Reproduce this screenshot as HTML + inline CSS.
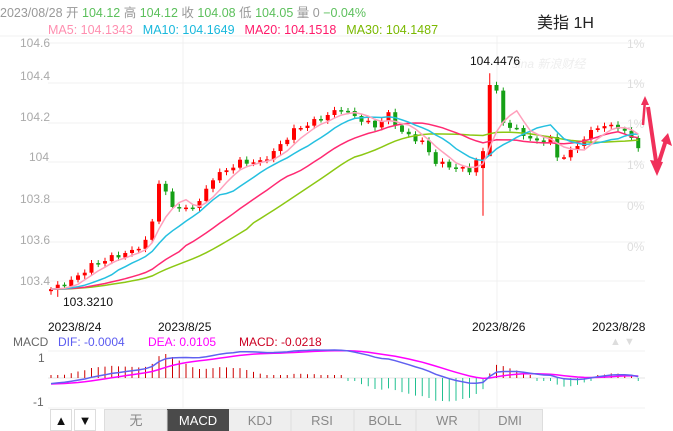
<!DOCTYPE html>
<html><head><meta charset="utf-8"><style>
body{margin:0;width:673px;height:431px;background:#fff;overflow:hidden;font-family:"Liberation Sans","Noto Sans CJK SC",sans-serif;}
svg{position:absolute;left:0;top:0}
</style></head><body>
<svg id="s" width="673" height="431" xmlns="http://www.w3.org/2000/svg" font-family="Liberation Sans, Noto Sans CJK SC, sans-serif">
<rect x="0" y="0" width="673" height="431" fill="#fff"/>
<g stroke="#f0f0f0" stroke-width="1">
<line x1="0" y1="36" x2="673" y2="36"/>
<line x1="48" y1="43" x2="645" y2="43"/><line x1="48" y1="83" x2="645" y2="83"/><line x1="48" y1="123" x2="645" y2="123"/><line x1="48" y1="162" x2="645" y2="162"/><line x1="48" y1="202" x2="645" y2="202"/><line x1="48" y1="242" x2="645" y2="242"/><line x1="48" y1="281" x2="645" y2="281"/>
<line x1="183" y1="36" x2="183" y2="320"/><line x1="497" y1="36" x2="497" y2="320"/>
<line x1="48" y1="351" x2="645" y2="351"/><line x1="48" y1="408" x2="645" y2="408"/>
<line x1="183" y1="351" x2="183" y2="408"/><line x1="497" y1="351" x2="497" y2="408"/>
</g>
<line x1="48" y1="378" x2="645" y2="378" stroke="#e4e4e4"/>
<text x="0" y="17" font-size="12.5" fill="#999">2023/08/28 开 <tspan fill="#5cc05c">104.12</tspan> 高 <tspan fill="#5cc05c">104.12</tspan> 收 <tspan fill="#5cc05c">104.08</tspan> 低 <tspan fill="#5cc05c">104.05</tspan> 量 0 <tspan fill="#5cc05c">−0.04%</tspan></text>
<text x="48" y="34" font-size="12.5"><tspan fill="#ff8fb0">MA5: 104.1343</tspan><tspan dx="10" fill="#19b8dc">MA10: 104.1649</tspan><tspan dx="10" fill="#ff1a6a">MA20: 104.1518</tspan><tspan dx="10" fill="#7ab800">MA30: 104.1487</tspan></text>
<text x="537" y="28" font-size="16" fill="#222">美指 1H</text>
<g font-size="12" fill="#aaa">
<text x="20" y="47">104.6</text><text x="20" y="80">104.4</text><text x="20" y="121">104.2</text><text x="29" y="161">104</text><text x="20" y="203">103.8</text><text x="20" y="244">103.6</text><text x="20" y="285">103.4</text>
</g>
<g font-size="12" fill="#ddd">
<text x="627" y="48">1%</text><text x="627" y="88">1%</text><text x="627" y="128">1%</text><text x="627" y="169">1%</text><text x="627" y="210">0%</text><text x="627" y="251">0%</text>
</g>
<text x="512" y="68" font-size="12" fill="#eee" font-style="italic">sina 新浪财经</text>
<g id="cand"></g><g id="ma"></g><g id="mac"></g>
<text x="470" y="65" font-size="12" fill="#111">104.4476</text>
<text x="63" y="306" font-size="12" fill="#111">103.3210</text>
<g font-size="12" fill="#111">
<text x="48" y="331">2023/8/24</text><text x="158" y="331">2023/8/25</text><text x="472" y="331">2023/8/26</text><text x="592" y="331">2023/8/28</text>
</g>
<text x="13" y="346" font-size="12" fill="#666">MACD</text>
<text x="58" y="346" font-size="12" fill="#5b5bf0">DIF: -0.0004</text>
<text x="148" y="346" font-size="12" fill="#ff00ff">DEA: 0.0105</text>
<text x="239" y="346" font-size="12" fill="#cc0022">MACD: -0.0218</text>
<text x="610" y="345" font-size="11" fill="#ddd">▲ ▼</text>
<text x="38" y="362" font-size="12" fill="#666">1</text>
<text x="33" y="406" font-size="12" fill="#666">-1</text>
<polyline points="643,125 645,100" stroke="#f0305a" stroke-width="2.5" fill="none"/>
<polygon points="641,105 645,96 649,105" fill="#f0305a"/>
<polyline points="648,107 657,168 666,140" stroke="#f0305a" stroke-width="4" fill="none" stroke-linejoin="miter"/>
<polygon points="650,160 657,176 663,162" fill="#f0305a"/>
<polygon points="661,141 668,133 672,146" fill="#f0305a"/>
<g stroke="#ddd" fill="#fff">
<rect x="50.5" y="409.5" width="21" height="21"/><rect x="74.5" y="409.5" width="21" height="21"/>
<rect x="104.5" y="409.5" width="438" height="22" fill="#eee"/>
</g>
<rect x="167" y="409" width="62" height="22" fill="#4a4a4a"/>
<g stroke="#ddd"><line x1="167" y1="410" x2="167" y2="431"/><line x1="291" y1="410" x2="291" y2="431"/><line x1="354" y1="410" x2="354" y2="431"/><line x1="416" y1="410" x2="416" y2="431"/><line x1="479" y1="410" x2="479" y2="431"/></g>
<g font-size="13" text-anchor="middle" fill="#888">
<text x="61" y="425" fill="#111">▲</text><text x="85" y="425" fill="#111">▼</text>
<text x="136" y="425">无</text><text x="198" y="425" fill="#fff">MACD</text><text x="260" y="425">KDJ</text><text x="322" y="425">RSI</text><text x="385" y="425">BOLL</text><text x="447" y="425">WR</text><text x="510" y="425">DMI</text>
</g>
</svg>
<script>
var kp=[[0,103.36],[3,103.40],[6,103.48],[9,103.52],[12,103.55],[14,103.60],[15,103.70],[16,103.90],[18,103.78],[20,103.76],[22,103.80],[24,103.92],[28,104.00],[31,104.00],[33,104.05],[36,104.16],[40,104.22],[43,104.27],[45,104.23],[48,104.18],[50,104.24],[52,104.15],[55,104.10],[57,104.00],[60,103.97],[62,103.96],[64,104.05],[65,104.40],[66,104.35],[67,104.20],[69,104.16],[72,104.10],[74,104.12],[75,104.02],[77,104.05],[79,104.12],[81,104.18],[84,104.18],[86,104.12],[87,104.08]];
var N=88,C=[];
for(var i=0;i<N;i++){for(var k=0;k<kp.length-1;k++){if(i>=kp[k][0]&&i<=kp[k+1][0]){var t=(i-kp[k][0])/(kp[k+1][0]-kp[k][0]);C.push(kp[k][1]+t*(kp[k+1][1]-kp[k][1])+0.012*Math.sin(i*2.3));break;}}}
function Y(p){return 43+(104.6-p)*198.5}
function X(i){return 51+i*6.75}
var h='';
for(i=0;i<N;i++){var o=i?C[i-1]:C[0]-0.01;var c=C[i];var up=c>=o;var col=up?'#f00':'#16a016';
var hi=Math.max(o,c)+0.01+0.008*Math.abs(Math.sin(i*1.7)),lo=Math.min(o,c)-0.01-0.008*Math.abs(Math.cos(i*1.3));
if(i==65){o=104.03;hi=104.4476;} if(i==64){lo=103.73;o=103.97;}
if(i==1){lo=103.321}
var yt=Y(Math.max(o,c)),yb=Y(Math.min(o,c));if(yb-yt<1.5)yb=yt+1.5;
h+='<line x1="'+X(i)+'" x2="'+X(i)+'" y1="'+Y(hi)+'" y2="'+Y(lo)+'" stroke="'+col+'" stroke-width="1"/>';
h+='<rect x="'+(X(i)-2)+'" y="'+yt+'" width="4" height="'+(yb-yt)+'" fill="'+col+'"/>';}
document.getElementById('cand').innerHTML=h;
function ma(n){var pts=[];for(var i=0;i<N;i++){var s=0,m=0;for(var j=Math.max(0,i-n+1);j<=i;j++){s+=C[j];m++;}
var v=s/m; if(i<n){v=C[0]+(v-C[0])*(i/(n))*1.0;} pts.push(X(i)+','+Y(v).toFixed(1));}return pts.join(' ');}
var m='';[[30,'#8cc814'],[20,'#ff2a72'],[10,'#25c0e0'],[5,'#ffa0bc']].forEach(function(a){m+='<polyline points="'+ma(a[0])+'" fill="none" stroke="'+a[1]+'" stroke-width="1.5"/>';});
document.getElementById('ma').innerHTML=m;
var e12=C[0],e26=C[0]+0.03,dea=-0.03,D=[],E=[],M=[];
for(i=0;i<N;i++){e12=e12+(C[i]-e12)*2/13;e26=e26+(C[i]-e26)*2/27;var d=e12-e26;dea=dea+(d-dea)*2/10;D.push(d);E.push(dea);M.push(2*(d-dea));}
var mx=0;D.forEach(function(v){mx=Math.max(mx,v)});var sc=28/mx;
var mm=0;M.forEach(function(v){mm=Math.max(mm,Math.abs(v))});var sm=24/mm;
var g='';for(i=0;i<N;i++){var v=M[i]*sm;if(Math.abs(v)<3)v=(v<0?-3:3);g+='<line x1="'+X(i)+'" x2="'+X(i)+'" y1="378" y2="'+(378-v)+'" stroke="'+(v>0?'#cc0000':'#20c090')+'" stroke-width="1"/>';}
function pl(a,col){return '<polyline points="'+a.map(function(v,i){return X(i)+','+Math.min(388,378-v*sc).toFixed(1)}).join(' ')+'" fill="none" stroke="'+col+'" stroke-width="1.5"/>';}
g+=pl(E,'#ff00ff')+pl(D,'#6060f0');
document.getElementById('mac').innerHTML=g;
</script>
</body></html>
